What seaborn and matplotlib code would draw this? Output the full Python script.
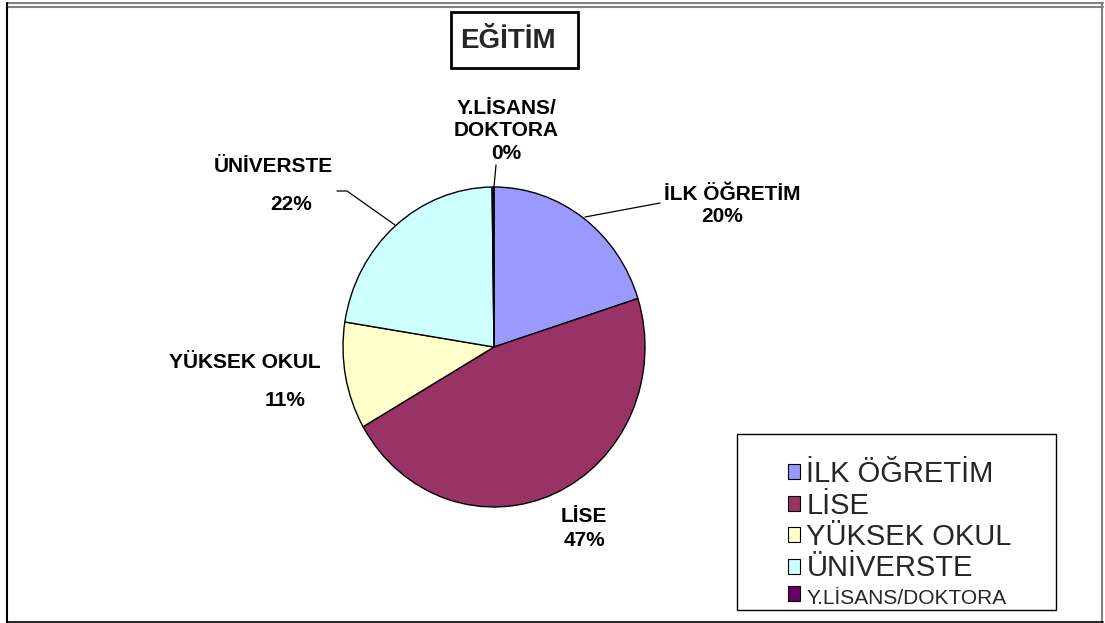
import matplotlib
matplotlib.use("Agg")
import matplotlib.pyplot as plt
import seaborn as sns
from matplotlib.patches import Rectangle, Patch
from matplotlib.lines import Line2D

# ---- data ----
categories = ["İLK ÖĞRETİM", "LİSE", "YÜKSEK OKUL", "ÜNİVERSTE", "Y.LİSANS/DOKTORA"]
slice_labels = ["İLK ÖĞRETİM", "LİSE", "YÜKSEK OKUL", "ÜNİVERSTE", "Y.LİSANS/\nDOKTORA"]
values = [20.1, 46.6, 10.8, 22.3, 0.2]
colors = ["#9999FF", "#993366", "#FFFFCC", "#CCFFFF", "#660066"]
title = "EĞİTİM"

sns.set_style("white")
plt.rcParams["font.family"] = ["Liberation Sans", "DejaVu Sans"]

W, H = 1105, 623
fig = plt.figure(figsize=(W / 100, H / 100), dpi=100)
fig.patch.set_facecolor("white")

def fp(x, y):
    """pixel (from top-left) -> figure fraction"""
    return x / W, 1 - y / H

# pie axes: full figure, ellipse mapped to pixels
cx, cy, rx, ry = 494, 347, 151, 160
ax = fig.add_axes([0, 0, 1, 1])
palette = sns.color_palette(colors)
wedges, _ = ax.pie(values, colors=palette, startangle=90, counterclock=False,
                   wedgeprops=dict(edgecolor="black", linewidth=1.0))
ax.set_aspect("auto")
ax.set_xlim(-cx / rx, (W - cx) / rx)
ax.set_ylim((cy - H) / ry, cy / ry)
ax.axis("off")

total = sum(values)
pcts = [f"{round(v / total * 100):.0f}%" for v in values]

lab_kw = dict(transform=fig.transFigure, ha="center", va="center",
              fontsize=15, fontweight="bold", color="black")

# slice labels (name, pct) positions in pixels
name_pos = [(732, 194), (584, 516), (245, 363), (273, 166), (506, 119)]
pct_pos = [(722, 217), (584, 541), (285, 400), (291, 205), (506, 153)]
for i in range(len(values)):
    nm = slice_labels[i]
    if "\n" in nm:
        a, b = nm.split("\n")
        fig.text(*fp(name_pos[i][0], 108), a, **lab_kw)
        fig.text(*fp(name_pos[i][0], 130), b, **lab_kw)
    else:
        fig.text(*fp(*name_pos[i]), nm, **lab_kw)
    fig.text(*fp(*pct_pos[i]), pcts[i], **lab_kw)

# leader lines
def fline(xs, ys, **kw):
    fig.add_artist(Line2D([x / W for x in xs], [1 - y / H for y in ys],
                          transform=fig.transFigure, **kw))

fline([585, 660], [217, 203], color="black", lw=0.9)
fline([337, 347, 395], [191, 191, 225], color="black", lw=0.9)
fline([496, 494], [165, 187], color="black", lw=0.9)

# title box
fig.add_artist(Rectangle(fp(451, 68), 127 / W, 56 / H, transform=fig.transFigure,
                         facecolor="white", edgecolor="black", lw=2))
fig.text(*fp(508, 41), title, transform=fig.transFigure, ha="center", va="center",
         fontsize=20, fontweight="bold")

# legend frame
fig.add_artist(Rectangle(fp(737, 610), 319 / W, 176 / H, transform=fig.transFigure,
                         facecolor="white", edgecolor="black", lw=1))
handles = [Patch(facecolor=c, edgecolor="black", lw=0.8) for c in colors]
leg = fig.legend(handles, categories, loc="upper left",
                 bbox_to_anchor=fp(788, 460), bbox_transform=fig.transFigure,
                 frameon=False, fontsize=21, borderpad=0, borderaxespad=0,
                 handlelength=0.41, handleheight=0.41, handletextpad=0.22,
                 labelspacing=0.12)
leg.get_texts()[-1].set_fontsize(15)

# outer border
fline([7, 1103], [3, 3], color="#808080", lw=1.5)
fline([7, 1103], [6.5, 6.5], color="#808080", lw=1.5)
fline([7, 7], [3, 623], color="black", lw=1.5)
fline([1102, 1102], [3, 623], color="#808080", lw=1.5)
fline([7, 1103], [621.5, 621.5], color="black", lw=1.2)

fig.savefig("out.png", dpi=100, facecolor="white")
